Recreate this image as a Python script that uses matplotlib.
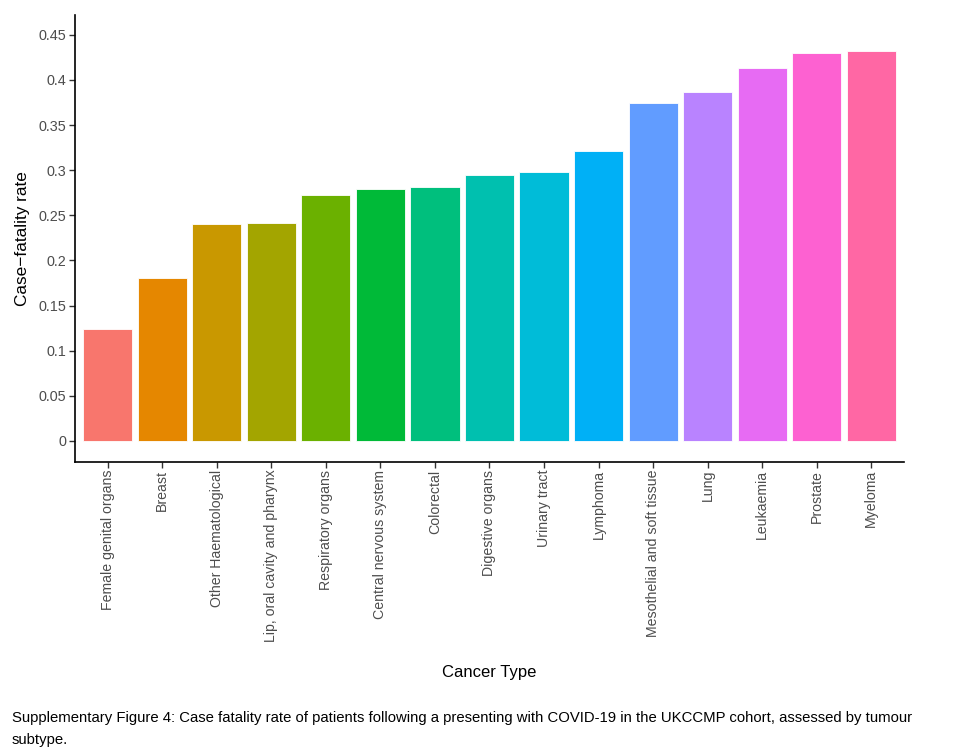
"""Case fatality rate by cancer subtype, ggplot-style bar chart."""
import matplotlib
matplotlib.use("Agg")
import matplotlib.pyplot as plt
import numpy as np

cancer_types = [
    "Female genital organs", "Breast", "Other Haematological",
    "Lip, oral cavity and pharynx", "Respiratory organs",
    "Central nervous system", "Colorectal", "Digestive organs",
    "Urinary tract", "Lymphoma", "Mesothelial and soft tissue",
    "Lung", "Leukaemia", "Prostate", "Myeloma",
]
fatality_rate = [0.124, 0.181, 0.240, 0.241, 0.272, 0.279, 0.281, 0.2945,
                 0.298, 0.321, 0.375, 0.387, 0.413, 0.430, 0.432]
bar_colors = ["#F8766D", "#E58700", "#C99800", "#A3A500", "#6BB100",
              "#00BA38", "#00BF7D", "#00C0AF", "#00BCD8", "#00B0F6",
              "#619CFF", "#B983FF", "#E76BF3", "#FD61D1", "#FF67A4"]
y_ticks = [0, 0.05, 0.1, 0.15, 0.2, 0.25, 0.3, 0.35, 0.4, 0.45]
y_tick_labels = ["0", "0.05", "0.1", "0.15", "0.2", "0.25", "0.3", "0.35", "0.4", "0.45"]
caption = ("Supplementary Figure 4: Case fatality rate of patients following a presenting "
           "with COVID-19 in the UKCCMP cohort, assessed by tumour\nsubtype.")

plt.rcParams["font.family"] = ["Liberation Sans", "DejaVu Sans"]

fig = plt.figure(figsize=(9.56, 7.52), dpi=100)
ax = fig.add_axes([75 / 956, 1 - 462 / 752, (904 - 75) / 956, (462 - 15) / 752])

x = np.arange(1, len(cancer_types) + 1)
ax.bar(x, fatality_rate, width=0.9, color=bar_colors, edgecolor="white", linewidth=0.6)

ax.set_xlim(0.4, len(cancer_types) + 0.6)
ax.set_ylim(-0.0233, 0.472)
ax.set_xticks(x)
ax.set_xticklabels(cancer_types, rotation=90, ha="center", va="top",
                   fontsize=10.2, color="#4d4d4d")
ax.set_yticks(y_ticks)
ax.set_yticklabels(y_tick_labels, fontsize=10.4, color="#4d4d4d")
ax.tick_params(axis="x", length=4, width=1, color="#333333", pad=1.5)
ax.tick_params(axis="y", length=4, width=1, color="#333333", pad=2.5)

for side in ("top", "right"):
    ax.spines[side].set_visible(False)
for side in ("left", "bottom"):
    ax.spines[side].set_linewidth(1.2)
    ax.spines[side].set_color("black")

ax.set_ylabel("Case\u2212fatality rate", fontsize=12.4)
ax.yaxis.set_label_coords(-(75 - 30) / (904 - 75), 0.5)
ax.set_xlabel("Cancer Type", fontsize=12)
ax.xaxis.set_label_coords(0.5, -(665 - 462) / (462 - 15))

fig.text(12 / 956, 1 - 711 / 752, caption, fontsize=10.7, va="top", ha="left",
         linespacing=1.75)

fig.savefig("out.png", dpi=100)
